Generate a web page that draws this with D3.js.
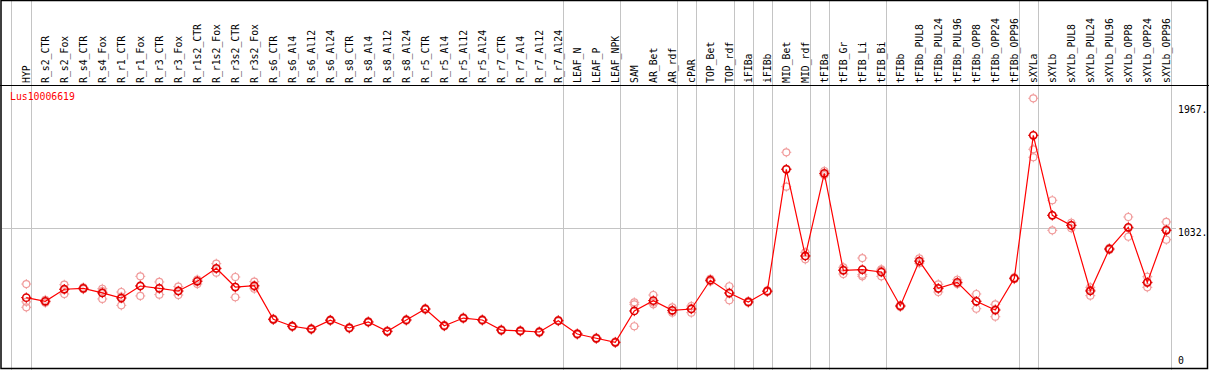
<!DOCTYPE html>
<html><head><meta charset="utf-8">
<script src="https://cdn.jsdelivr.net/npm/d3@7"></script>
<style>body{margin:0;background:#fff}svg{display:block}</style>
</head><body>
<script>
const geneId = "Lus10006619";
const categories = ["HYP","R_s2_CTR","R_s2_Fox","R_s4_CTR","R_s4_Fox","R_r1_CTR","R_r1_Fox","R_r3_CTR","R_r3_Fox","R_r1s2_CTR","R_r1s2_Fox","R_r3s2_CTR","R_r3s2_Fox","R_s6_CTR","R_s6_Al4","R_s6_Al12","R_s6_Al24","R_s8_CTR","R_s8_Al4","R_s8_Al12","R_s8_Al24","R_r5_CTR","R_r5_Al4","R_r5_Al12","R_r5_Al24","R_r7_CTR","R_r7_Al4","R_r7_Al12","R_r7_Al24","LEAF_N","LEAF_P","LEAF_NPK","SAM","AR_Bet","AR_rdf","cPAR","TOP_Bet","TOP_rdf","iFIBa","iFIBb","MID_Bet","MID_rdf","tFIBa","tFIB_Gr","tFIB_Li","tFIB_Bi","tFIBb","tFIBb_PUL8","tFIBb_PUL24","tFIBb_PUL96","tFIBb_OPP8","tFIBb_OPP24","tFIBb_OPP96","sXYLa","sXYLb","sXYLb_PUL8","sXYLb_PUL24","sXYLb_PUL96","sXYLb_OPP8","sXYLb_OPP24","sXYLb_OPP96"];
const means = [497,469,561,568,533,494,586,568,548,622,721,578,588,331,278,257,324,265,311,239,326,410,282,341,326,249,242,234,321,219,186,155,395,474,400,410,630,532,464,546,1479,816,1448,706,711,693,433,777,568,614,469,402,645,1739,1127,1050,548,869,1035,614,1012];
const replicates = [
 [601,465,423],[480,469,458],[596,562,525],[575,568,561],[565,547,487],[540,504,438],[660,588,510],[617,567,520],[581,546,517],[601,630,635],[757,718,688],[655,579,500],[619,580,565],
 [336,331,326],[283,278,273],[262,257,252],[329,324,319],[270,265,260],[316,311,306],[244,239,234],[331,326,321],[415,410,405],[287,282,277],[346,341,336],[331,326,321],[254,249,244],[247,242,237],[239,234,229],[326,321,316],[224,219,214],[191,186,181],[160,155,150],
 [461,446,278],[517,459,446],[423,395,382],[433,415,382],[640,630,620],[584,535,477],[470,464,458],[552,546,540],[1609,1482,1346],[844,814,790],[1466,1443,1435],[729,711,678],[800,673,660],[714,705,660],[440,433,426],[798,773,760],[599,565,540],[634,607,601],[525,470,412],[446,409,351],[652,645,638],
 [2022,1632,1571],[1242,1127,1012],[1070,1052,1028],[576,556,512],[876,869,862],[1114,1028,963],[657,609,576],[1076,1020,940]
];
const tickValues = [0, 1032, 1967];
const tickLabels = ["0", "1032.", "1967."];
const gridValues = [1032];
const groupEnds = ["HYP","R_r7_Al24","LEAF_NPK","AR_rdf","cPAR","TOP_rdf","iFIBa","iFIBb","MID_rdf","tFIBa","tFIB_Bi","tFIBb_OPP96","sXYLa","sXYLb_OPP96"];

const W = 1209, H = 370;
const svg = d3.select("body").append("svg").attr("width", W).attr("height", H);
const font = "'DejaVu Sans Mono', monospace";

const x = d3.scalePoint().domain(categories).range([26.3, 26.3 + 19 * (categories.length - 1)]);
const y = d3.scaleLinear().domain([0, 1967]).range([362.6, 105.5]);

// separators
const sepX = [x(categories[0]) - 15].concat(groupEnds.map(c => x(c) + 4.4));
svg.append("g").selectAll("line").data(sepX).join("line")
  .attr("x1", d => Math.round(d) + 0.5).attr("x2", d => Math.round(d) + 0.5)
  .attr("y1", 0).attr("y2", H)
  .attr("stroke", "#c4c4c4").attr("stroke-width", 1);

// gridline
svg.append("g").selectAll("line").data(gridValues).join("line")
  .attr("x1", 2).attr("x2", 1176)
  .attr("y1", d => Math.round(y(d)) + 0.5).attr("y2", d => Math.round(y(d)) + 0.5)
  .attr("stroke", "#c4c4c4");

// header line & border
svg.append("line").attr("x1", 0).attr("x2", W).attr("y1", 85.5).attr("y2", 85.5).attr("stroke", "#000");
svg.append("rect").attr("x", 1).attr("y", 0.5).attr("width", 1206.5).attr("height", 368)
  .attr("fill", "none").attr("stroke", "#000").attr("stroke-width", 1.5);

// column labels
svg.append("g").selectAll("text").data(categories).join("text")
  .attr("transform", d => `translate(${x(d) + 3.5},83) rotate(-90)`)
  .attr("font-family", font).attr("font-size", "9.8px").attr("fill", "#000")
  .text(d => d);

// gene id
svg.append("text").attr("x", 10).attr("y", 100).attr("font-family", font)
  .attr("font-size", "9.8px").attr("fill", "#ff0000").text(geneId);

// right axis labels
const axis = d3.axisRight(y).tickValues(tickValues).tickSize(0)
  .tickFormat((d, i) => tickLabels[i]);
const ag = svg.append("g").attr("transform", "translate(1176,0)").call(axis);
ag.select(".domain").remove();
ag.selectAll("text").attr("font-family", font).attr("font-size", "9.8px")
  .attr("fill", "#000").attr("x", 2)
  .attr("dy", d => d === 0 ? "0.1em" : "0.75em");

function marker(g, cx, cy, r, col, sw, tick) {
  g.append("circle").attr("cx", cx).attr("cy", cy).attr("r", r)
    .attr("fill", "none").attr("stroke", col).attr("stroke-width", sw);
  [[0,-1],[0,1],[-1,0],[1,0]].forEach(([dx,dy]) => {
    g.append("line").attr("x1", cx + dx * r).attr("y1", cy + dy * r)
      .attr("x2", cx + dx * (r + tick)).attr("y2", cy + dy * (r + tick))
      .attr("stroke", col).attr("stroke-width", 1);
  });
}

// replicates
const rg = svg.append("g");
categories.forEach((c, i) => {
  replicates[i].forEach(v => marker(rg, x(c), y(v), 3.5, "#f09a9a", 1.2, 1.5));
});

// line
svg.append("path").datum(means)
  .attr("d", d3.line().x((d, i) => x(categories[i])).y(d => y(d)))
  .attr("fill", "none").attr("stroke", "#ff0000").attr("stroke-width", 1.2);

// means
const mg = svg.append("g");
categories.forEach((c, i) => marker(mg, x(c), y(means[i]), 3.6, "#e00000", 1.6, 1.6));
</script>
</body></html>
